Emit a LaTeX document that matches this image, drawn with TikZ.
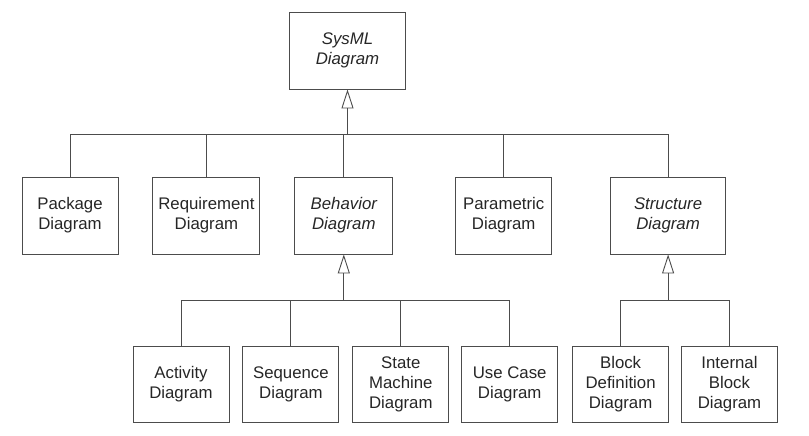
\documentclass[tikz,border=0pt]{standalone}
\usepackage{fontspec}
\setmainfont{Liberation Sans}
\usetikzlibrary{arrows.meta,positioning,calc}

\begin{document}
\begin{tikzpicture}[x=1pt, y=1pt, node distance=13pt, font=\fontsize{16.8}{20}\selectfont,
  diag/.style={draw=black!70, line width=0.9pt, align=center, inner sep=2pt, minimum width=96pt, minimum height=77pt, text=black!85},
  abstr/.style={diag, font=\fontsize{16.8}{20}\selectfont\itshape},
  gen/.style={-{Triangle[open, length=19pt, width=12pt]}},
  link/.style={draw=black!70, line width=0.9pt}]
\useasboundingbox (0,0) rectangle (809,436);
% top
\node[abstr, minimum width=116pt] (sys) at (347.5,385.5) {SysML\\Diagram};
% second row
\node[diag] (pkg) at (70,220.5) {Package\\Diagram};
\node[diag, minimum width=107pt, right=34pt of pkg] (req) {Requirement\\Diagram};
\node[abstr, minimum width=98pt, right=34pt of req] (beh) {Behavior\\Diagram};
\node[diag, right=62pt of beh] (par) {Parametric\\Diagram};
\node[abstr, minimum width=115pt, right=58pt of par] (str) {Structure\\Diagram};
% third row
\node[diag, minimum height=76pt] (act) at (181,52) {Activity\\Diagram};
\node[diag, minimum height=76pt, right=of act] (seq) {Sequence\\Diagram};
\node[diag, minimum height=76pt, right=of seq] (stm) {State\\Machine\\Diagram};
\node[diag, minimum height=76pt, right=12pt of stm] (uc) {Use Case\\Diagram};
\node[diag, minimum height=76pt, right=14pt of uc] (bdd) {Block\\Definition\\Diagram};
\node[diag, minimum height=76pt, right=12pt of bdd] (ibd) {Internal\\Block\\Diagram};
% buses
\coordinate (top) at ($(sys.south)+(0,-45)$);
\coordinate (bbus) at ($(beh.south)+(0,-46)$);
\coordinate (sbus) at ($(str.south)+(0,-46)$);
\draw[link, gen] (top) -- (sys);
\draw[link] (pkg.north) |- (top); \draw[link] (req.north) |- (top);
\draw[link] (beh.north) |- (top); \draw[link] (par.north) |- (top);
\draw[link] (str.north) |- (top);
\draw[link, gen] (bbus) -- (beh);
\draw[link] (act.north) |- (bbus); \draw[link] (seq.north) |- (bbus);
\draw[link] (stm.north) |- (bbus); \draw[link] (uc.north) |- (bbus);
\draw[link, gen] (sbus) -- (str);
\draw[link] (bdd.north) |- (sbus); \draw[link] (ibd.north) |- (sbus);
\end{tikzpicture}
\end{document}
